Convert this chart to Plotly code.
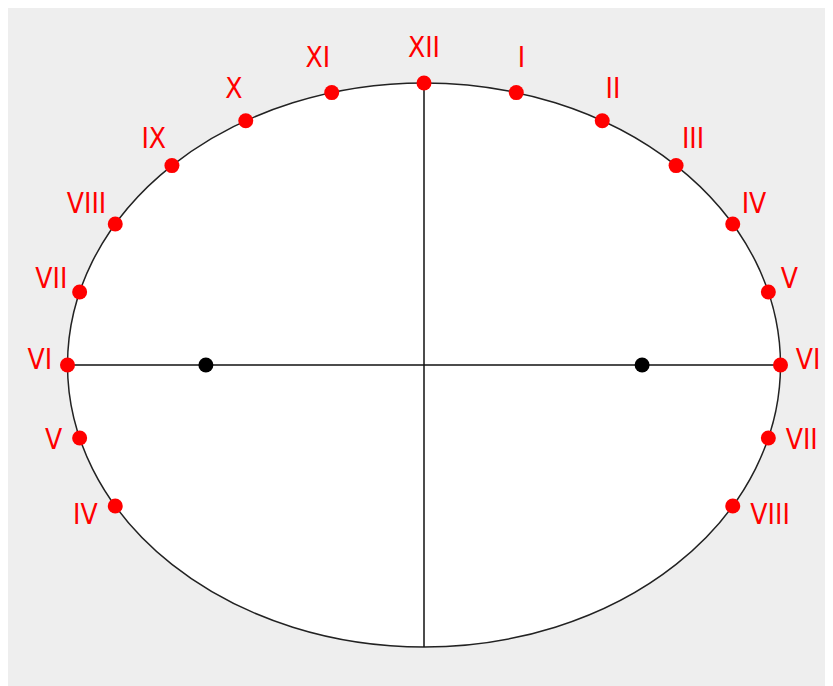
import math
import plotly.graph_objects as go

# ---- data ----
hours = [4, 5, 6, 7, 8, 9, 10, 11, 12, 13, 14, 15, 16, 17, 18, 19, 20]
hour_labels = ["IV", "V", "VI", "VII", "VIII", "IX", "X", "XI", "XII",
               "I", "II", "III", "IV", "V", "VI", "VII", "VIII"]
semi_major = 1.0          # east-west half width of the dial
semi_minor = 0.791        # north-south half height (sin of latitude)
label_major = 1.015
label_flare = 0.028
label_minor = 0.875
label_shift = 0.0098
focus_x = [-math.sqrt(semi_major**2 - semi_minor**2), math.sqrt(semi_major**2 - semi_minor**2)]
focus_y = [0, 0]

def hour_angle(h):
    return math.radians((h - 12) * 15)

px = [semi_major * math.sin(hour_angle(h)) for h in hours]
py = [semi_minor * math.cos(hour_angle(h)) for h in hours]
lx = [(label_major + label_flare * (1 - math.cos(hour_angle(h)))) * math.sin(hour_angle(h))
      for h in hours]
ly = [label_minor * math.cos(hour_angle(h)) + label_shift for h in hours]
lpos = ["middle left" if h < 12 else ("middle right" if h > 12 else "middle center")
        for h in hours]

fig = go.Figure()

# dial outline (white ellipse)
fig.add_shape(type="circle", xref="x", yref="y",
              x0=-semi_major, x1=semi_major, y0=-semi_minor, y1=semi_minor,
              fillcolor="white", line=dict(color="#222222", width=1.5), layer="below")

# cross lines
fig.add_trace(go.Scatter(x=[-semi_major, semi_major], y=[0, 0], mode="lines",
                         line=dict(color="#111111", width=1.5), hoverinfo="skip"))
fig.add_trace(go.Scatter(x=[0, 0], y=[-semi_minor, semi_minor], mode="lines",
                         line=dict(color="#111111", width=1.5), hoverinfo="skip"))

# hour points
fig.add_trace(go.Scatter(x=px, y=py, mode="markers",
                         marker=dict(color="#ff0000", size=15, line=dict(width=0))))
# foci
fig.add_trace(go.Scatter(x=focus_x, y=focus_y, mode="markers",
                         marker=dict(color="#000000", size=15, line=dict(width=0))))
# labels
fig.add_trace(go.Scatter(x=lx, y=ly, mode="text", text=hour_labels,
                         textposition=lpos,
                         textfont=dict(family="DejaVu Sans Condensed, Liberation Sans, sans-serif",
                                       size=28, color="#ff0000")))

scale = 356.5  # px per unit
plot_w = 819
plot_h = 678
cx, cy = 416, 357
fig.update_xaxes(range=[-cx / scale, (plot_w - cx) / scale], visible=False,
                 showgrid=False, zeroline=False, fixedrange=True)
fig.update_yaxes(range=[-(plot_h - cy) / scale, cy / scale], visible=False,
                 showgrid=False, zeroline=False, fixedrange=True)

fig.update_layout(width=plot_w, height=plot_h, showlegend=False,
                  margin=dict(l=0, r=0, t=0, b=0),
                  paper_bgcolor="#eeeeee", plot_bgcolor="#eeeeee")

fig.write_html("out.html")
